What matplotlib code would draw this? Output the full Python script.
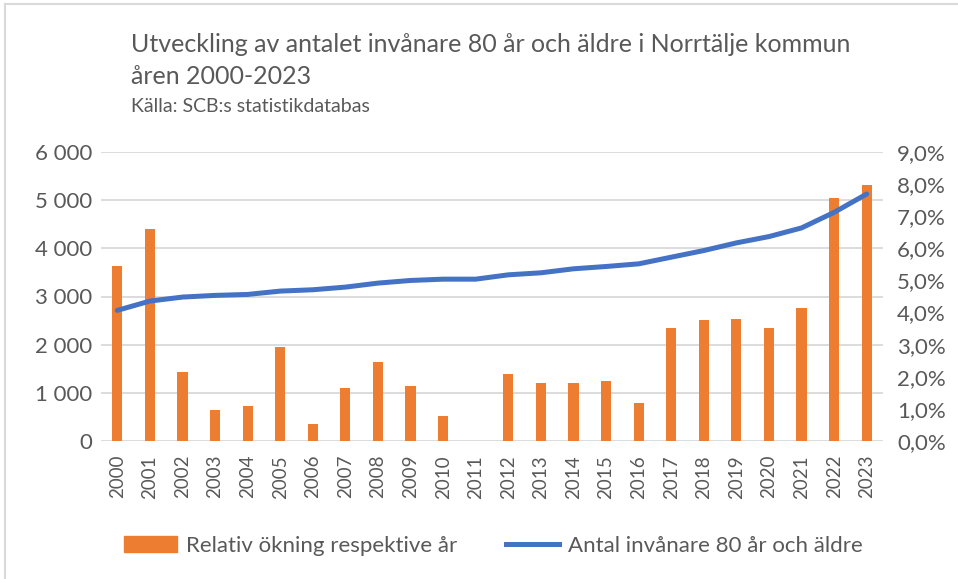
import matplotlib
matplotlib.use('Agg')
import matplotlib.pyplot as plt
from matplotlib.lines import Line2D
from matplotlib.patches import Patch
from matplotlib.ticker import FuncFormatter

plt.rcParams['font.family'] = ['Lato', 'DejaVu Sans']

# data
years = [str(y) for y in range(2000, 2024)]
antal_80 = [2712, 2905, 2988, 3023, 3043, 3112, 3140, 3195, 3278, 3333, 3360, 3360,
            3450, 3492, 3575, 3623, 3678, 3816, 3954, 4113, 4244, 4424, 4747, 5128]
okning_pct = [5.44, 6.60, 2.14, 0.98, 1.10, 2.93, 0.54, 1.66, 2.46, 1.70, 0.79, 0.0,
              2.09, 1.82, 1.82, 1.86, 1.18, 3.53, 3.77, 3.81, 3.53, 4.13, 7.56, 7.96]

left_ticks = [0, 1000, 2000, 3000, 4000, 5000, 6000]
right_ticks = [0, 1, 2, 3, 4, 5, 6, 7, 8, 9]

orange = '#ED7D31'
blue = '#4472C4'
txt = '#595959'

fig = plt.figure(figsize=(9.58, 5.79), dpi=100)
ax = fig.add_axes([101 / 958, 1 - 441 / 579, 782 / 958, 289 / 579])
ax2 = ax.twinx()

# bars on right axis, line on left axis drawn on top
ax.set_zorder(2)
ax.patch.set_visible(False)
ax2.set_zorder(1)

x = list(range(len(years)))
ax2.set_ylim(0, 9)
ax.set_ylim(0, 6000)
ax.set_xlim(-0.5, len(years) - 0.5)

# gridlines follow left axis, drawn under the bars
for v in left_ticks:
    ax2.axhline(v / 6000 * 9, color='#D9D9D9', lw=1.3, zorder=0)

ax2.bar(x, okning_pct, width=0.31, color=orange, zorder=2)
ax.plot(x, antal_80, color=blue, lw=3.6, solid_capstyle='round', zorder=3)

ax.set_yticks(left_ticks)
ax.yaxis.set_major_formatter(FuncFormatter(lambda v, p: f'{int(v):,}'.replace(',', ' ')))
ax2.set_yticks(right_ticks)
ax2.yaxis.set_major_formatter(FuncFormatter(lambda v, p: f'{v:.1f}%'.replace('.', ',')))

ax.set_xticks(x)
ax.set_xticklabels(years, rotation=90)

for a in (ax, ax2):
    for s in a.spines.values():
        s.set_visible(False)
    a.tick_params(length=0, colors=txt, labelsize=16)
ax.tick_params(axis='x', labelsize=13.5, pad=10)
ax.tick_params(axis='y', pad=6)
ax2.tick_params(axis='y', pad=10)

fig.text(131 / 958, 1 - 45 / 579, 'Utveckling av antalet invånare 80 år och äldre i Norrtälje kommun',
         fontsize=18, color=txt, va='center')
fig.text(131 / 958, 1 - 76 / 579, 'åren 2000-2023', fontsize=18, color=txt, va='center')
fig.text(131 / 958, 1 - 107 / 579, 'Källa: SCB:s statistikdatabas', fontsize=14, color=txt, va='center')

handles = [Patch(color=orange, label='Relativ ökning respektive år'),
           Line2D([0], [0], color=blue, lw=3.6, label='Antal invånare 80 år och äldre')]
fig.legend(handles=handles, loc='center', bbox_to_anchor=(0.515, 1 - 546 / 579), ncol=2,
           frameon=False, fontsize=16, labelcolor=txt, handlelength=2.4, handletextpad=0.4,
           columnspacing=2.2)

# light frame of the chart area
fig.add_artist(Line2D([0.005, 1], [0.993, 0.993], color='#D9D9D9', lw=1.5, transform=fig.transFigure))
fig.add_artist(Line2D([0.005, 0.005], [0, 0.993], color='#D9D9D9', lw=1.5, transform=fig.transFigure))

plt.savefig('out.png', dpi=100)
plt.close()
